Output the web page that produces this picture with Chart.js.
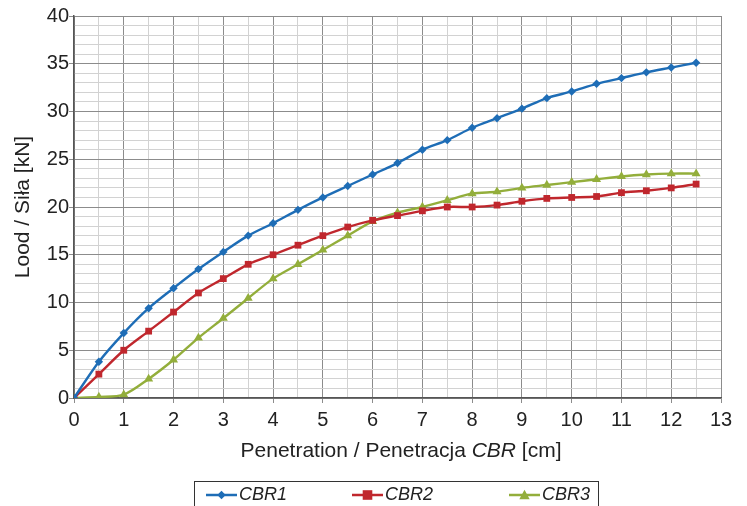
<!DOCTYPE html>
<html>
<head>
<meta charset="utf-8">
<script src="https://cdn.jsdelivr.net/npm/chart.js"></script>
<style>
  html, body { margin: 0; padding: 0; background: #fff; }
  #wrap { width: 747px; height: 506px; }
</style>
</head>
<body>
<div id="wrap"><canvas id="cbr-chart" width="747" height="506"></canvas></div>
<script>
// penetration steps [cm]
const penetration = [0, 0.5, 1, 1.5, 2, 2.5, 3, 3.5, 4, 4.5, 5, 5.5, 6, 6.5,
                     7, 7.5, 8, 8.5, 9, 9.5, 10, 10.5, 11, 11.5, 12, 12.5];

// load [kN]
const cbr1 = [0, 3.8, 6.8, 9.4, 11.5, 13.5, 15.3, 17.0, 18.3, 19.7, 21.0, 22.2, 23.4, 24.6,
              26.0, 27.0, 28.3, 29.3, 30.3, 31.4, 32.1, 32.9, 33.5, 34.1, 34.6, 35.1];
const cbr2 = [0, 2.5, 5.0, 7.0, 9.0, 11.0, 12.5, 14.0, 15.0, 16.0, 17.0, 17.9, 18.6, 19.1,
              19.6, 20.0, 20.0, 20.2, 20.6, 20.9, 21.0, 21.1, 21.5, 21.7, 22.0, 22.4];
const cbr3 = [0, 0.1, 0.35, 2.0, 4.0, 6.3, 8.35, 10.45, 12.5, 14.0, 15.5, 17.0, 18.5, 19.4,
              20.0, 20.7, 21.4, 21.6, 22.0, 22.3, 22.6, 22.9, 23.2, 23.4, 23.5, 23.5];

const seriesNames = ['CBR1', 'CBR2', 'CBR3'];
const xTicksMax = 13;
const yTicksMax = 40;

const FONT = '"Liberation Sans", Arial, Helvetica, sans-serif';
const colors = ['#1e6db6', '#c0272d', '#93ae3b'];
const markers = ['rectRot', 'rect', 'triangle'];
const markerSize = [4.2, 4.8, 5.2];

function toPoints(ys) {
    return penetration.map((x, i) => ({ x: x, y: ys[i] }));
}

const datasets = [cbr1, cbr2, cbr3].map((vals, i) => ({
    label: seriesNames[i],
    data: toPoints(vals),
    borderColor: colors[i],
    backgroundColor: colors[i],
    borderWidth: 2.4,
    pointStyle: markers[i],
    pointRadius: markerSize[i],
    pointBorderWidth: 0,
    tension: 0.3
}));

// draws a small marker for the legend
function drawMarker(ctx, style, x, y, r) {
    ctx.beginPath();
    if (style === 'rectRot') {
        ctx.moveTo(x, y - r); ctx.lineTo(x + r, y); ctx.lineTo(x, y + r); ctx.lineTo(x - r, y);
    } else if (style === 'rect') {
        ctx.rect(x - r, y - r, 2 * r, 2 * r);
    } else {
        ctx.moveTo(x, y - r); ctx.lineTo(x + r, y + r * 0.8); ctx.lineTo(x - r, y + r * 0.8);
    }
    ctx.closePath();
    ctx.fill();
}

// x-axis title (with italic CBR) and the boxed legend at the bottom
const extrasPlugin = {
    id: 'extras',
    afterDraw(chart) {
        const ctx = chart.ctx;
        ctx.save();
        ctx.fillStyle = '#222';
        ctx.textBaseline = 'middle';

        const parts = [
            { t: 'Penetration / Penetracja ', f: '21px ' + FONT },
            { t: 'CBR', f: 'italic 21px ' + FONT },
            { t: ' [cm]', f: '21px ' + FONT }
        ];
        let total = 0;
        parts.forEach(p => { ctx.font = p.f; p.w = ctx.measureText(p.t).width; total += p.w; });
        let x = 401 - total / 2;
        ctx.textAlign = 'left';
        parts.forEach(p => { ctx.font = p.f; ctx.fillText(p.t, x, 451); x += p.w; });

        // legend box
        ctx.strokeStyle = '#333';
        ctx.lineWidth = 1;
        ctx.strokeRect(194.5, 481.5, 404, 40);
        const starts = [206, 352, 509];
        const ly = 495;
        ctx.font = 'italic 18px ' + FONT;
        seriesNames.forEach((name, i) => {
            const sx = starts[i];
            ctx.strokeStyle = colors[i];
            ctx.fillStyle = colors[i];
            ctx.lineWidth = 2.5;
            ctx.beginPath();
            ctx.moveTo(sx, ly);
            ctx.lineTo(sx + 31, ly);
            ctx.stroke();
            drawMarker(ctx, markers[i], sx + 15.5, ly, markerSize[i]);
            ctx.fillStyle = '#222';
            ctx.fillText(name, sx + 33, ly);
        });
        ctx.restore();
    }
};

const ctx = document.getElementById('cbr-chart').getContext('2d');
new Chart(ctx, {
    type: 'line',
    data: { datasets: datasets },
    plugins: [extrasPlugin],
    options: {
        responsive: false,
        animation: false,
        layout: { padding: { top: 16, right: 26, bottom: 0, left: 0 } },
        plugins: {
            legend: { display: false },
            tooltip: { enabled: false }
        },
        scales: {
            x: {
                type: 'linear',
                min: 0,
                max: xTicksMax,
                afterFit(scale) { scale.height = 108; },
                ticks: {
                    stepSize: 0.5,
                    autoSkip: false,
                    maxRotation: 0,
                    padding: 5,
                    color: '#222',
                    font: { family: FONT, size: 20 },
                    callback: v => Number.isInteger(v) ? v : ''
                },
                grid: {
                    color: c => Number.isInteger(c.tick.value) ? '#8c8c8c' : '#d2d2d2',
                    tickColor: c => Number.isInteger(c.tick.value) ? '#8c8c8c' : 'rgba(0,0,0,0)',
                    tickLength: 5,
                    lineWidth: 1
                },
                border: { color: '#555', width: 1.5 }
            },
            y: {
                min: 0,
                max: yTicksMax,
                afterFit(scale) { scale.width = 74; },
                title: {
                    display: true,
                    text: 'Lood / Siła [kN]',
                    color: '#222',
                    font: { family: FONT, size: 21 },
                    padding: { top: 11, bottom: 0 }
                },
                ticks: {
                    stepSize: 1,
                    autoSkip: false,
                    padding: 0,
                    color: '#222',
                    font: { family: FONT, size: 20 },
                    callback: v => v % 5 === 0 ? v : ''
                },
                grid: {
                    color: c => c.tick.value % 5 === 0 ? '#8c8c8c' : '#d2d2d2',
                    tickColor: c => c.tick.value % 5 === 0 ? '#8c8c8c' : 'rgba(0,0,0,0)',
                    tickLength: 5,
                    lineWidth: 1
                },
                border: { color: '#555', width: 1.5 }
            }
        }
    }
});
</script>
</body>
</html>
